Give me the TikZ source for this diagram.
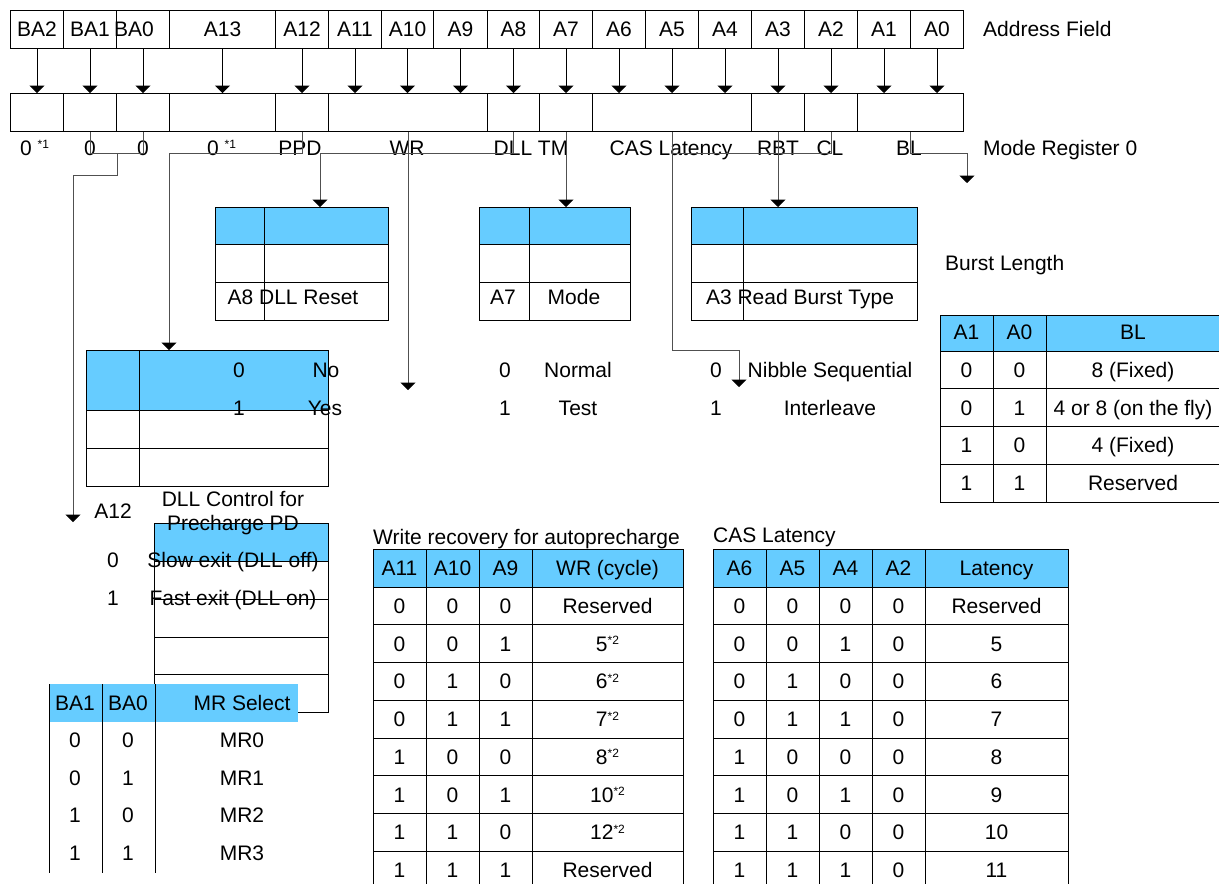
\documentclass[tikz,border=0pt]{standalone}
\usepackage{fontspec}
\setmainfont{Liberation Sans}
\usetikzlibrary{positioning,arrows.meta}
\definecolor{hdrblue}{RGB}{102,204,255}
\definecolor{linkgray}{RGB}{80,80,80}
\newcommand{\supnote}[1]{\raisebox{6.5pt}{\fontsize{12}{12}\selectfont #1}}

\tikzset{
  cell/.style={draw, line width=1pt, inner sep=0pt, minimum height=38pt, anchor=north west},
  tab/.style={draw, line width=1pt, inner sep=0pt, anchor=north west},
  txt/.style={inner sep=0pt, anchor=base},
  txtl/.style={inner sep=0pt, anchor=base west},
  link/.style={draw=linkgray, line width=1pt},
  rule/.style={draw=black, line width=1pt},
}

\begin{document}
\begin{tikzpicture}[x=1pt, y=-1pt, font=\fontsize{21}{25}\selectfont,
  >={Triangle[width=15pt,length=7.5pt,black]}]

  \useasboundingbox (0,0) rectangle (1219,884);

  % address field
  \foreach \n/\l/\w/\s in {BA2/10/53/0,BA1/63/53/0,BA0/116/53/-18,A13/169/106/0,A12/275/53/0,
      A11/328/53/0,A10/381/52/0,A9/433/54/0,A8/487/52/0,A7/539/53/0,A6/592/53/0,A5/645/53/0,
      A4/698/53/0,A3/751/53/0,A2/804/53/0,A1/857/53/0,A0/910/53/0}
    \node[cell, minimum width=\w pt] (f\n) at (\l,10) {\hspace*{\s pt}\n};
  \node[txtl] (addr) at (983,36) {Address Field};

  % mode register
  \foreach \n/\l/\w in {BA2/10/53,BA1/63/53,BA0/116/53,A13/169/106,PPD/275/53,WR/328/159,
      DLL/487/52,TM/539/53,CAS/592/159,RBT/751/53,CL/804/53,BL/857/106}
    \node[cell, minimum width=\w pt] (r\n) at (\l,93) {};
  \node[txtl] (mreg) at (983,155) {Mode Register 0};

  \coordinate (regtop) at (0,93);
  \foreach \n in {BA2,BA1,BA0,A13,A12,A11,A10,A9,A8,A7,A6,A5,A4,A3,A2,A1,A0}
    \draw[rule,->] (f\n.south) -- (f\n.south |- regtop);

  \node[txtl] (lBA2) at (20,155) {0 \supnote{*1}};
  \node[txt] (lBA1) at (90,155) {0};
  \node[txt] (lBA0) at (143,155) {0};
  \node[txtl] (lA13) at (207,155) {0 \supnote{*1}};
  \node[txt] (lPPD) at (300,155) {PPD};
  \node[txt] (lWR) at (407,155) {WR};
  \node[txt] (lDLL) at (531,155) {DLL TM};
  \node[txt] (lCAS) at (671,155) {CAS Latency};
  \node[txt] (lRBT) at (778,155) {RBT};
  \node[txt] (lCL) at (830,155) {CL};
  \node[txt] (lBL) at (909,155) {BL};

  % small tables
  \fill[hdrblue] (215,207) rectangle (388,244);
  \node[tab, minimum width=173pt, minimum height=113pt] (rsttab) at (215,207) {};
  \draw[rule] (215,244) -- (388,244) (215,282) -- (388,282) (264,207) -- (264,320);
  \node[txt] (rstlbl) at (293,304) {A8 DLL Reset};

  \fill[hdrblue] (479,207) rectangle (630,244);
  \node[tab, minimum width=151pt, minimum height=113pt] (modetab) at (479,207) {};
  \draw[rule] (479,244) -- (630,244) (479,282) -- (630,282) (529,207) -- (529,320);
  \node[txt] (modebit) at (503,304) {A7};
  \node[txt] (modelbl) at (574,304) {Mode};

  \fill[hdrblue] (691,207) rectangle (917,244);
  \node[tab, minimum width=226pt, minimum height=113pt] (rbttab) at (691,207) {};
  \draw[rule] (691,244) -- (917,244) (691,282) -- (917,282) (743,207) -- (743,320);
  \node[txt] (rbtlbl) at (800,304) {A3 Read Burst Type};

  \node[txt] (m0) at (505,377) {0};
  \node[txt] (m0v) at (578,377) {Normal};
  \node[txt] (m1) at (505,415) {1};
  \node[txt] (m1v) at (578,415) {Test};
  \node[txt] (b0) at (716,377) {0};
  \node[txt] (b0v) at (830,377) {Nibble Sequential};
  \node[txt] (b1) at (716,415) {1};
  \node[txt] (b1v) at (830,415) {Interleave};

  \fill[hdrblue] (86,350) rectangle (328,410);
  \node[tab, minimum width=242pt, minimum height=136pt] (dlltab) at (86,350) {};
  \draw[rule] (86,410) -- (328,410) (86,448) -- (328,448) (139,350) -- (139,486);
  \node[txt] (d0) at (239,377) {0};
  \node[txt] (d0v) at (326,377) {No};
  \node[txt] (d1) at (239,415) {1};
  \node[txt] (d1v) at (325,415) {Yes};

  % precharge PD
  \fill[hdrblue] (154,523) rectangle (328,561);
  \node[tab, minimum width=174pt, minimum height=189pt] (pdtab) at (154,523) {};
  \foreach \y in {561,599,637,674}
    \draw[rule] (154,\y) -- (328,\y);
  \node[txt] (pdbit) at (113,518) {A12};
  \node[txt] (pdttl) at (233,506) {DLL Control for};
  \node[txt] (pdttl2) at (233,530) {Precharge PD};
  \node[txt] (p0) at (113,567) {0};
  \node[txt] (p0v) at (233,567) {Slow exit (DLL off)};
  \node[txt] (p1) at (113,605) {1};
  \node[txt] (p1v) at (233,605) {Fast exit (DLL on)};

  % MR select
  \fill[hdrblue] (49,684) rectangle (298,722);
  \foreach \x in {49,102,155}
    \draw[rule] (\x,684) -- (\x,873);
  \node[txt] (mrh1) at (75,710) {BA1};
  \node[txt] (mrh2) at (128,710) {BA0};
  \node[txt] (mrh3) at (242,710) {MR Select};
  \foreach \a/\b/\v/\y in {0/0/MR0/747,0/1/MR1/785,1/0/MR2/822,1/1/MR3/860} {
    \node[txt] (mra\v) at (75,\y) {\a};
    \node[txt] (mrb\v) at (128,\y) {\b};
    \node[txt] (mrc\v) at (242,\y) {\v};
  }

  % write recovery
  \node[txtl] (wrttl) at (373,544) {Write recovery for autoprecharge};
  \fill[hdrblue] (373,549) rectangle (683,587);
  \draw[rule] (373,549) -- (683,549);
  \foreach \x in {373,426,479,532,683}
    \draw[rule] (\x,549) -- (\x,884);
  \foreach \i in {0,...,7}
    \draw[rule] (373,{587+37.75*\i}) -- (683,{587+37.75*\i});
  \foreach \h/\x [count=\k] in {A11/399.5,A10/452.5,A9/505.5,WR (cycle)/607.5}
    \node[txt] (wrh\k) at (\x,575) {\h};
  \foreach \a/\b/\c/\v [count=\i from 0] in {0/0/0/Reserved,0/0/1/5\supnote{*2},
      0/1/0/6\supnote{*2},0/1/1/7\supnote{*2},1/0/0/8\supnote{*2},1/0/1/10\supnote{*2},
      1/1/0/12\supnote{*2},1/1/1/Reserved} {
    \pgfmathsetmacro\yb{613.4+37.75*\i}
    \node[txt] (wra\i) at (399.5,\yb) {\a};
    \node[txt] (wrb\i) at (452.5,\yb) {\b};
    \node[txt] (wrc\i) at (505.5,\yb) {\c};
    \node[txt] (wrv\i) at (607.5,\yb) {\v};
  }

  % CAS latency
  \node[txtl] (casttl) at (713,542) {CAS Latency};
  \fill[hdrblue] (713,549) rectangle (1068,587);
  \draw[rule] (713,549) -- (1068,549);
  \foreach \x in {713,766,819,872,925,1068}
    \draw[rule] (\x,549) -- (\x,884);
  \foreach \i in {0,...,7}
    \draw[rule] (713,{587+37.75*\i}) -- (1068,{587+37.75*\i});
  \foreach \h/\x [count=\k] in {A6/739.5,A5/792.5,A4/845.5,A2/898.5,Latency/996.5}
    \node[txt] (cash\k) at (\x,575) {\h};
  \foreach \a/\b/\c/\d/\v [count=\i from 0] in {0/0/0/0/Reserved,0/0/1/0/5,0/1/0/0/6,
      0/1/1/0/7,1/0/0/0/8,1/0/1/0/9,1/1/0/0/10,1/1/1/0/11} {
    \pgfmathsetmacro\yb{613.4+37.75*\i}
    \node[txt] (casa\i) at (739.5,\yb) {\a};
    \node[txt] (casb\i) at (792.5,\yb) {\b};
    \node[txt] (casc\i) at (845.5,\yb) {\c};
    \node[txt] (casd\i) at (898.5,\yb) {\d};
    \node[txt] (casv\i) at (996.5,\yb) {\v};
  }

  % burst length
  \node[txtl] (blttl) at (945,270) {Burst Length};
  \fill[hdrblue] (940,315) rectangle (1219,351);
  \foreach \y in {315,351,388.75,426.5,464.25,502}
    \draw[rule] (940,\y) -- (1219,\y);
  \foreach \x in {940,993,1046}
    \draw[rule] (\x,315) -- (\x,502);
  \foreach \h/\x [count=\k] in {A1/966.5,A0/1019.5,BL/1133}
    \node[txt] (blh\k) at (\x,339) {\h};
  \foreach \a/\b/\v [count=\i from 0] in {0/0/8 (Fixed),0/1/4 or 8 (on the fly),
      1/0/4 (Fixed),1/1/Reserved} {
    \pgfmathsetmacro\yb{377.4+37.75*\i}
    \node[txt] (bla\i) at (966.5,\yb) {\a};
    \node[txt] (blb\i) at (1019.5,\yb) {\b};
    \node[txt] (blv\i) at (1133,\yb) {\v};
  }

  % connectors
  \coordinate (bus) at (0,153);
  \coordinate (bamid) at (117,153);
  \coordinate (baend) at (73,522);
  \coordinate (wrend) at (0,390);
  \coordinate (casend) at (739,387);
  \coordinate (blend) at (967,183);

  \draw[link] (rBA1.south) -- (rBA1.south |- bus) -- (rBA0.south |- bus) -- (rBA0.south);
  \draw[link,->] (bamid) -- (117,175) -| (baend);
  \draw[link,->] (rPPD.south) |- (169,153) -- (169,0 |- dlltab.north);
  \draw[link,->] (rDLL.south) |- (320,153) -- (320,0 |- rsttab.north);
  \draw[link,->] (rWR.south) -- (rWR.south |- wrend);
  \draw[link,->] (rTM.south) -- (rTM.south |- modetab.north);
  \draw[link,->] (rCAS.south) |- (casend |- 0,350) -- (casend);
  \draw[link] (rCL.south) |- (rCAS.south |- bus);
  \draw[link,->] (rRBT.south) -- (rRBT.south |- rbttab.north);
  \draw[link,->] (rBL.south) |- (blend |- bus) -- (blend);

\end{tikzpicture}
\end{document}
